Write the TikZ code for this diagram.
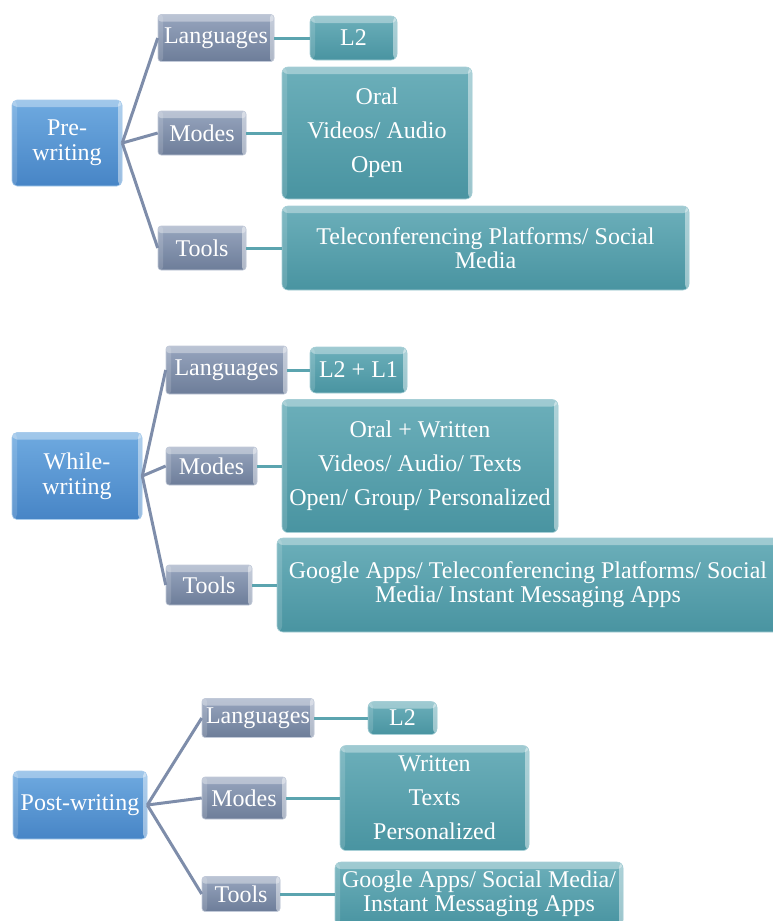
\documentclass[tikz,border=0pt]{standalone}
\usepackage{fontspec}
\setmainfont{Liberation Serif}
\usepackage{tikz}
\usetikzlibrary{positioning}

\definecolor{rootTop}{HTML}{6FAAE0}
\definecolor{rootBot}{HTML}{4785C6}
\definecolor{midTop}{HTML}{97A5BE}
\definecolor{midBot}{HTML}{6D7D99}
\definecolor{leafTop}{HTML}{6CAFBA}
\definecolor{leafBot}{HTML}{4994A1}
\definecolor{midLine}{HTML}{7E8DAA}
\definecolor{leafLine}{HTML}{5BA4AF}

\tikzset{
  bevel/.style={path picture={
    \fill[white, opacity=0.35] (path picture bounding box.north west) rectangle ([yshift=-7pt]path picture bounding box.north east);
    \fill[white, opacity=0.45] ([xshift=-4pt]path picture bounding box.north east) rectangle (path picture bounding box.south east);
    \fill[white, opacity=0.15] (path picture bounding box.north west) rectangle ([xshift=5pt]path picture bounding box.south west);}},
  stage/.style={rounded corners=5pt, top color=rootTop, bottom color=rootBot, draw=rootTop!60!white, line width=0.6pt, bevel, text=white, align=center, inner sep=0pt},
  aspect/.style={rounded corners=3pt, top color=midTop, bottom color=midBot, draw=midTop!60!white, line width=0.6pt, bevel, text=white, align=center, inner sep=0pt},
  detail/.style={rounded corners=6pt, top color=leafTop, bottom color=leafBot, draw=leafTop!60!white, line width=0.6pt, bevel, text=white, align=center, inner sep=0pt},
  branch/.style={midLine, line width=3pt},
  twig/.style={leafLine, line width=3pt}
}

\begin{document}
\begin{tikzpicture}[x=1pt, y=-1pt, font=\fontsize{24}{24}\selectfont]
\useasboundingbox (0,0) rectangle (772,921);

% pre-writing
\node [stage, minimum width=110pt, minimum height=86pt] (pre) at (67,143) {Pre-\\[1pt]writing};
\node [aspect, minimum width=116pt, minimum height=47pt] (lang1) at (216,38) {Languages};
\node [aspect, minimum width=88pt, minimum height=44pt] (modes1) at (202,133) {Modes};
\node [aspect, minimum width=88pt, minimum height=44pt] (tools1) at (202,248) {Tools};
\node [detail, minimum width=87pt, minimum height=44pt] (lang1a) at (353.5,38) {L2};
\node [detail, minimum width=190pt, minimum height=132pt] (modes1a) at (377,133) {Oral\\[10pt]Videos/ Audio\\[10pt]Open};
\node [detail, minimum width=407pt, minimum height=84pt] (tools1a) at (485.5,248) {Teleconferencing Platforms/ Social\\Media};

\draw [branch] (pre.east) -- (lang1.west);
\draw [branch] (pre.east) -- (modes1.west);
\draw [branch] (pre.east) -- (tools1.west);
\draw [twig] (lang1.east) -- (lang1a.west);
\draw [twig] (modes1.east) -- (modes1a.west);
\draw [twig] (tools1.east) -- (tools1a.west);

% while-writing
\node [stage, minimum width=130pt, minimum height=87pt] (while) at (77,476) {While-\\[1pt]writing};
\node [aspect, minimum width=121pt, minimum height=48pt] (lang2) at (226.5,370) {Languages};
\node [aspect, minimum width=91pt, minimum height=38pt] (modes2) at (211.5,466) {Modes};
\node [aspect, minimum width=86pt, minimum height=40pt] (tools2) at (209,585) {Tools};
\node [detail, minimum width=97pt, minimum height=46pt] (lang2a) at (358.5,370) {L2 + L1};
\node [detail, minimum width=276pt, minimum height=133pt] (modes2a) at (420,466) {Oral + Written\\[10pt]Videos/ Audio/ Texts\\[10pt]Open/ Group/ Personalized};
\node [detail, minimum width=502pt, minimum height=94pt] (tools2a) at (528,585) {Google Apps/ Teleconferencing Platforms/ Social\\Media/ Instant Messaging Apps};

\draw [branch] (while.east) -- (lang2.west);
\draw [branch] (while.east) -- (modes2.west);
\draw [branch] (while.east) -- (tools2.west);
\draw [twig] (lang2.east) -- (lang2a.west);
\draw [twig] (modes2.east) -- (modes2a.west);
\draw [twig] (tools2.east) -- (tools2a.west);

% post-writing
\node [stage, minimum width=134pt, minimum height=68pt] (post) at (80,805) {Post-writing};
\node [aspect, minimum width=112pt, minimum height=39pt] (lang3) at (258,718) {Languages};
\node [aspect, minimum width=84pt, minimum height=42pt] (modes3) at (244,798) {Modes};
\node [aspect, minimum width=78pt, minimum height=35pt] (tools3) at (241,894) {Tools};
\node [detail, minimum width=69pt, minimum height=33pt] (lang3a) at (402.5,718) {L2};
\node [detail, minimum width=189pt, minimum height=105pt] (modes3a) at (434.5,798) {Written\\[10pt]Texts\\[10pt]Personalized};
\node [detail, minimum width=288pt, minimum height=64pt] (tools3a) at (479,894) {Google Apps/ Social Media/\\Instant Messaging Apps};

\draw [branch] (post.east) -- (lang3.west);
\draw [branch] (post.east) -- (modes3.west);
\draw [branch] (post.east) -- (tools3.west);
\draw [twig] (lang3.east) -- (lang3a.west);
\draw [twig] (modes3.east) -- (modes3a.west);
\draw [twig] (tools3.east) -- (tools3a.west);
\end{tikzpicture}
\end{document}
